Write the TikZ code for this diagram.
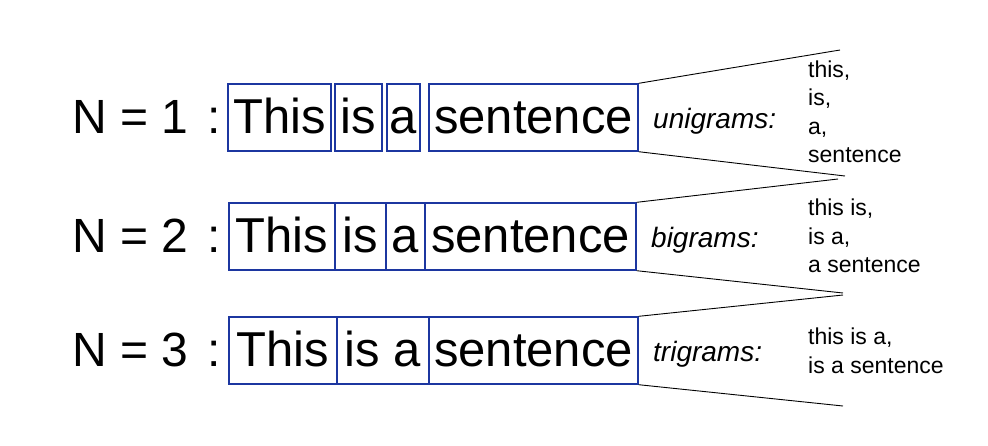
\documentclass[tikz,border=0pt]{standalone}
\usepackage{fontspec}
\setmainfont{Liberation Sans}
\usepackage{xcolor}
\usepackage{tikz}
\definecolor{boxblue}{RGB}{28,54,160}

\begin{document}
\begin{tikzpicture}[x=1pt,y=-1pt,
  word/.style={draw=boxblue,line width=1.4pt,inner sep=0pt,minimum height=67pt,
    text height=39pt,text depth=8pt,font=\fontsize{49}{55}\selectfont},
  gram/.style={word,line width=2.6pt},
  rowlabel/.style={anchor=base west,inner sep=0pt,font=\fontsize{48}{55}\selectfont},
  kind/.style={anchor=base west,inner sep=0pt,font=\fontsize{28}{32}\selectfont\itshape},
  list/.style={anchor=west,align=left,inner sep=0pt,font=\fontsize{23}{28.5}\selectfont},
  fan/.style={line width=0.9pt}]
\useasboundingbox (0,0) rectangle (988,445);
% N = 1
\path (72,133) node(n1) [rowlabel] {N = 1\hspace{6pt} :}
(279.5,117.5) node(u1) [word,minimum width=103pt] {This}
(358.5,117.5) node(u2) [word,minimum width=47pt] {is}
(403.5,117.5) node(u3) [word,minimum width=33pt] {a}
(533.5,117.5) node(u4) [word,minimum width=209pt] {sentence}
(653,128) node(uk) [kind] {unigrams:}
(808,112) node(ul) [list] {this,\\is,\\a,\\sentence};
\coordinate (ut) at (840,50);
\coordinate (ub) at (845,176);
\draw[fan] (u4.north east) -- (ut);
\draw[fan] (u4.south east) -- (ub);
% N = 2
\path (72,252) node(n2) [rowlabel] {N = 2\hspace{6pt} :}
(282,236.5) node(b1) [word,minimum width=106pt] {This}
(530.5,236.5) node(b4) [word,minimum width=211pt] {sentence}
(360.5,236.5) node(b2) [gram,minimum width=51pt] {is}
(405.5,236.5) node(b3) [gram,minimum width=39pt] {a}
(651,247) node(bk) [kind] {bigrams:}
(808,236) node(bl) [list] {this is,\\is a,\\a sentence};
\coordinate (bt) at (838,179);
\coordinate (bb) at (843,293);
\draw[fan] (b4.north east) -- (bt);
\draw[fan] (b4.south east) -- (bb);
% N = 3
\path (72,366) node(n3) [rowlabel] {N = 3\hspace{6pt} :}
(283,350.5) node(t1) [word,minimum width=108pt] {This}
(533.5,350.5) node(t3) [word,minimum width=209pt] {sentence}
(383,350.5) node(t2) [gram,minimum width=92pt] {is a}
(653,361) node(tk) [kind] {trigrams:}
(808,351) node(tl) [list] {this is a,\\is a sentence};
\coordinate (tt) at (843,295);
\coordinate (tb) at (843,406);
\draw[fan] (t3.north east) -- (tt);
\draw[fan] (t3.south east) -- (tb);
\end{tikzpicture}
\end{document}
